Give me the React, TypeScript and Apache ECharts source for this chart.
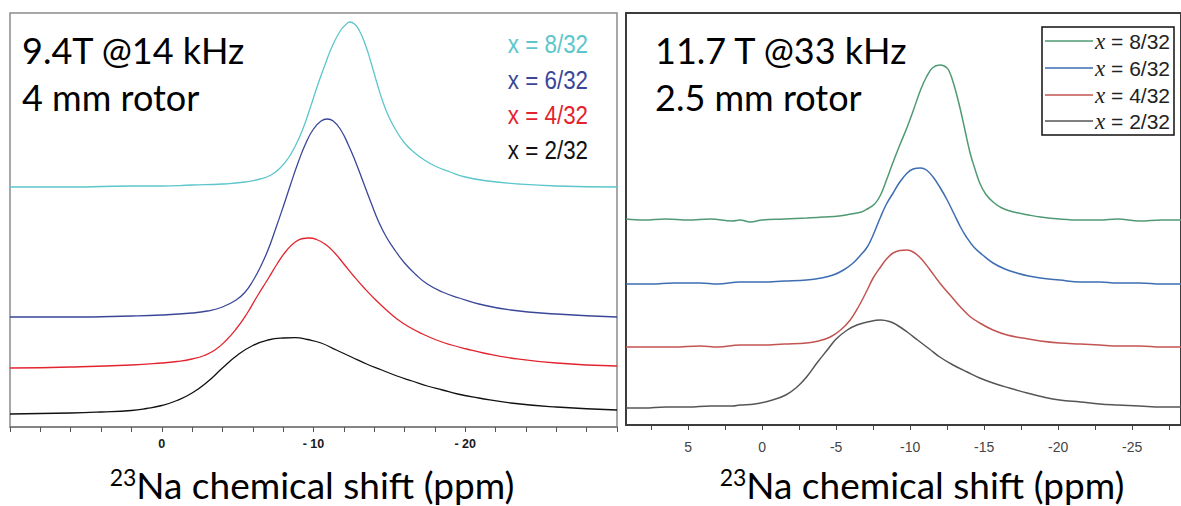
import React, { useEffect, useRef } from "react";
import * as echarts from "echarts";

// ---------- Left panel (9.4 T @ 14 kHz) : [ppm, intensity] ----------
const leftX8: number[][] = [
  [10, 240], [6, 240], [2, 241], [0, 241], [-2, 242], [-4, 243], [-5.5, 245], [-6.5, 248], [-7.2, 252],
  [-7.8, 259], [-8.3, 268], [-8.8, 281], [-9.3, 298], [-9.8, 320], [-10.3, 343], [-10.8, 364],
  [-11.3, 383], [-11.8, 397], [-12.1, 402], [-12.4, 405], [-12.7, 403], [-13, 397], [-13.4, 383],
  [-13.8, 364], [-14.2, 343], [-14.6, 324], [-15, 309], [-15.5, 295], [-16, 284], [-16.6, 275],
  [-17.3, 267], [-18, 261], [-19, 255], [-20, 250], [-21.5, 246], [-23.5, 243], [-26, 241], [-30, 240],
];
const leftX6: number[][] = [
  [10, 110], [6, 110], [2, 111], [0, 112], [-2, 114], [-3, 116], [-4, 120], [-4.9, 127], [-5.5, 135],
  [-6, 146], [-6.5, 160], [-7, 177], [-7.5, 198], [-8, 220], [-8.5, 243], [-9, 265], [-9.5, 284],
  [-10, 298], [-10.5, 306], [-10.9, 308], [-11.3, 306], [-11.8, 297], [-12.3, 282], [-12.8, 264],
  [-13.3, 244], [-13.8, 224], [-14.3, 205], [-14.8, 190], [-15.4, 176], [-16, 164], [-16.7, 153],
  [-17.5, 143], [-18.5, 135], [-19.6, 129], [-20.9, 123], [-23, 117], [-26, 113], [-30, 110],
];
const leftX4: number[][] = [
  [10, 59], [6, 60], [2, 62], [0, 64], [-1, 65.5], [-2, 68], [-2.8, 71.5], [-3.5, 77], [-4.2, 86],
  [-4.9, 98], [-5.6, 113], [-6.3, 131], [-7, 148], [-7.6, 163], [-8.2, 176], [-8.8, 185], [-9.3, 188.5],
  [-9.7, 189], [-10.2, 187.5], [-10.8, 182.5], [-11.4, 174], [-12, 163], [-12.7, 150], [-13.4, 138],
  [-14.1, 127], [-14.8, 117], [-15.5, 108], [-16.3, 100], [-17.2, 93], [-18.1, 87], [-19.1, 82],
  [-20.1, 78], [-21.2, 74], [-23, 69], [-26, 64], [-30, 61],
];
const leftX2: number[][] = [
  [10, 13], [6, 14], [4, 15], [2, 16.5], [1, 18.5], [0, 21.5], [-1, 26.5], [-2, 34], [-3, 45], [-4, 59],
  [-5, 72], [-6, 81.5], [-7, 87], [-8, 89], [-8.8, 89.3], [-9.6, 87.5], [-10.5, 84], [-11.5, 77],
  [-12.5, 70], [-13.5, 63], [-14.5, 57], [-15.5, 51], [-16.5, 46], [-17.5, 41], [-18.5, 37],
  [-19.5, 33], [-20.9, 29], [-23, 24], [-26, 20], [-30, 17],
];

// ---------- Right panel (11.7 T @ 33 kHz) : [ppm, intensity] ----------
const rightX8: number[][] = [
  [9.2, 206], [8, 205], [6.5, 206], [5, 205], [3.5, 206], [2, 204], [1.5, 205], [0.8, 203], [0, 205],
  [-1.5, 206], [-3, 207], [-4.1, 208], [-5.2, 209], [-6, 211], [-6.7, 213], [-7.1, 216], [-7.6, 221],
  [-8, 230], [-8.4, 245], [-8.85, 263], [-9.3, 280], [-9.8, 298], [-10.2, 314], [-10.7, 335],
  [-11.1, 348], [-11.5, 357], [-12, 360], [-12.3, 359], [-12.6, 355], [-13, 338], [-13.4, 315],
  [-13.7, 295], [-14.05, 272], [-14.4, 255], [-14.7, 242], [-15.1, 231], [-15.6, 223], [-16.2, 217],
  [-17, 213], [-18, 210], [-18.8, 208], [-20.1, 206], [-21.5, 205], [-22.8, 205], [-24, 206],
  [-25.5, 204], [-27, 205], [-28.3, 205],
];
const rightX6: number[][] = [
  [9.2, 141], [7.5, 141], [6, 142], [4.2, 142], [3, 141], [1.5, 143], [0, 143], [-1.5, 144], [-3, 145],
  [-4, 147], [-4.8, 150], [-5.5, 155], [-6.15, 162], [-6.6, 169], [-7.1, 178], [-7.5, 190], [-8, 208],
  [-8.4, 221], [-8.85, 232], [-9.3, 243], [-9.8, 252], [-10.2, 256], [-10.7, 257], [-11.1, 255],
  [-11.55, 248], [-12, 238], [-12.5, 225], [-13, 210], [-13.4, 198], [-13.8, 188], [-14.3, 178],
  [-14.9, 170], [-15.6, 162], [-16.4, 156], [-17.2, 152], [-18, 149], [-18.8, 147], [-20.1, 145],
  [-21.5, 143], [-22.8, 143], [-24, 142], [-25.5, 142], [-27, 141], [-28.3, 141],
];
const rightX4: number[][] = [
  [9.2, 78], [7.5, 78], [6, 78], [4.2, 79], [3, 78], [1.5, 80], [0, 80], [-1.5, 81], [-3, 82],
  [-3.8, 84], [-4.6, 88], [-5.3, 95], [-5.95, 105], [-6.5, 118], [-7.1, 135], [-7.5, 147], [-8, 158],
  [-8.4, 166], [-8.85, 172], [-9.3, 174.5], [-9.8, 175], [-10.2, 173], [-10.7, 167], [-11.3, 156],
  [-12, 142], [-12.7, 130], [-13.4, 118], [-14, 109], [-14.7, 102], [-15.6, 95], [-16.55, 90],
  [-17.6, 87], [-18.8, 84], [-20.1, 82], [-21.5, 81], [-22.8, 80], [-24, 79], [-25.5, 79], [-27, 78],
  [-28.3, 78],
];
const rightX2: number[][] = [
  [9.2, 17], [8, 17], [6.5, 18], [5, 18], [3.5, 19], [2, 19], [1.5, 20], [0.5, 21], [-0.7, 25],
  [-1.6, 30], [-2.36, 38], [-3, 48], [-3.7, 62], [-4.4, 75], [-5, 86], [-5.75, 95], [-6.4, 100],
  [-7.1, 103], [-8, 105], [-8.6, 103.5], [-9.1, 100], [-9.8, 93], [-10.5, 85], [-11.3, 76], [-12, 68],
  [-12.9, 60], [-13.85, 53], [-14.7, 47], [-15.6, 42], [-16.7, 37], [-17.9, 32], [-19, 28], [-20.1, 25],
  [-21.5, 23], [-22.8, 21], [-24, 20], [-25.5, 19], [-27, 18], [-28.3, 18],
];

// ---------- Axis ticks / labels ----------
const leftTicks = [10, 8, 6, 4, 2, 0, -2, -4, -6, -8, -10, -12, -14, -16, -18, -20, -22, -24, -26, -28, -30];
const leftLabels = [0, -10, -20];
const rightTicks = [7.5, 5, 2.5, 0, -2.5, -5, -7.5, -10, -12.5, -15, -17.5, -20, -22.5, -25, -27.5];
const rightLabels = [5, 0, -5, -10, -15, -20, -25];

const seriesNames = ["x = 8/32", "x = 6/32", "x = 4/32", "x = 2/32"];
const leftColors = ["#5cc6cb", "#3a4799", "#e3242f", "#111111"];
const rightColors = ["#4f9a74", "#3d6db2", "#c25452", "#555555"];

export default function App() {
  const ref = useRef<HTMLDivElement>(null);
  useEffect(() => {
    if (!ref.current) return;
    const chart = echarts.init(ref.current, undefined, { renderer: "svg" });
    const leftData = [leftX8, leftX6, leftX4, leftX2];
    const rightData = [rightX8, rightX6, rightX4, rightX2];
    const series: any[] = [];
    leftData.forEach((d, i) =>
      series.push({
        type: "line", name: "L " + seriesNames[i], xAxisIndex: 0, yAxisIndex: 0, data: d,
        showSymbol: false, smooth: 0.5,
        lineStyle: { color: leftColors[i], width: 1.3 }, silent: true,
      })
    );
    rightData.forEach((d, i) =>
      series.push({
        type: "line", name: "R " + seriesNames[i], xAxisIndex: 1, yAxisIndex: 1, data: d,
        showSymbol: false, smooth: 0.4,
        lineStyle: { color: rightColors[i], width: 1.5 }, silent: true,
      })
    );

    const legendRows = [41, 68, 95, 121];
    const leftLegendRows = [44, 80, 115, 150];
    const graphic: any[] = [];
    const title = (x: number, y: number, t: string) => ({
      type: "text", x, y, style: { text: t, fontFamily: "Lato", fontSize: 36, fill: "#000", verticalAlign: "middle" },
    });
    graphic.push(title(22, 50, "9.4T @14 kHz"));
    graphic.push(title(22, 97, "4 mm rotor"));
    graphic.push(title(655, 50, "11.7 T @33 kHz"));
    graphic.push(title(655, 97, "2.5 mm rotor"));
    // Left legend (colored text)
    seriesNames.forEach((n, i) =>
      graphic.push({
        type: "text", x: 588, y: leftLegendRows[i], scaleX: 0.86,
        style: { text: n, fontFamily: "'Liberation Sans', Arial", fontSize: 26, fill: leftColors[i], align: "right", verticalAlign: "middle" },
      })
    );
    // Right legend box
    graphic.push({ type: "rect", shape: { x: 1042, y: 27, width: 132, height: 108 }, style: { fill: "#fff", stroke: "#111", lineWidth: 1.5 }, z: 10 });
    seriesNames.forEach((n, i) => {
      graphic.push({ type: "line", shape: { x1: 1045, y1: legendRows[i], x2: 1093, y2: legendRows[i] }, style: { stroke: rightColors[i], lineWidth: 1.5 }, z: 11 });
      graphic.push({
        type: "text", x: 1095, y: legendRows[i], z: 11,
        style: {
          text: "{i|x}{n|" + n.slice(1) + "}",
          verticalAlign: "middle",
          rich: {
            i: { fontFamily: "'Liberation Serif', serif", fontStyle: "italic", fontSize: 23, fill: "#222" },
            n: { fontFamily: "'Liberation Sans', Arial", fontSize: 21, fill: "#222" },
          },
        },
      });
    });
    // Axis names
    const axisName = (cx: number) => ({
      type: "text", x: cx, y: 484,
      style: {
        text: "{s|23}{m|Na chemical shift (ppm)}", align: "center", verticalAlign: "middle",
        rich: {
          s: { fontFamily: "Lato", fontSize: 23, fill: "#000", verticalAlign: "top", lineHeight: 38 },
          m: { fontFamily: "Lato", fontSize: 37, fill: "#000", lineHeight: 38 },
        },
      },
    });
    graphic.push(axisName(312));
    graphic.push(axisName(922));

    chart.setOption({
      animation: false,
      backgroundColor: "#fff",
      grid: [
        { left: 10, right: 564, top: 13, bottom: 79, show: true, borderColor: "#8c8c8c", borderWidth: 1.5 },
        { left: 626, right: -2, top: 13, bottom: 81, show: true, borderColor: "#3c3c3c", borderWidth: 2 },
      ],
      xAxis: [
        {
          type: "value", gridIndex: 0, min: -30, max: 10, inverse: true,
          axisLine: { show: true, lineStyle: { color: "#7a7a7a", width: 1.5 } },
          axisTick: { show: true, customValues: leftTicks, length: 5, lineStyle: { color: "#555", width: 1 } },
          axisLabel: {
            customValues: leftLabels, margin: 10, fontFamily: "'Liberation Sans', Arial", fontWeight: "bold",
            fontSize: 12.5, color: "#1a1a1a",
            formatter: (v: number) => (v === 0 ? "0" : "- " + Math.abs(v)),
          },
          splitLine: { show: false },
        },
        {
          type: "value", gridIndex: 1, min: -28.3, max: 9.2, inverse: true,
          axisLine: { show: true, lineStyle: { color: "#3c3c3c", width: 2 } },
          axisTick: { show: true, customValues: rightTicks, length: 5, lineStyle: { color: "#444", width: 1 } },
          axisLabel: {
            customValues: rightLabels, margin: 15, fontFamily: "'Liberation Sans', Arial",
            fontSize: 14, color: "#444",
            formatter: (v: number) => String(v),
          },
          splitLine: { show: false },
        },
      ],
      yAxis: [
        { type: "value", gridIndex: 0, min: 0, max: 414, show: false, splitLine: { show: false } },
        { type: "value", gridIndex: 1, min: 0, max: 412, show: false, splitLine: { show: false } },
      ],
      series,
      graphic,
    });
    return () => chart.dispose();
  }, []);
  return <div ref={ref} style={{ position: "absolute", left: 0, top: 0, width: 1181, height: 506 }} />;
}
